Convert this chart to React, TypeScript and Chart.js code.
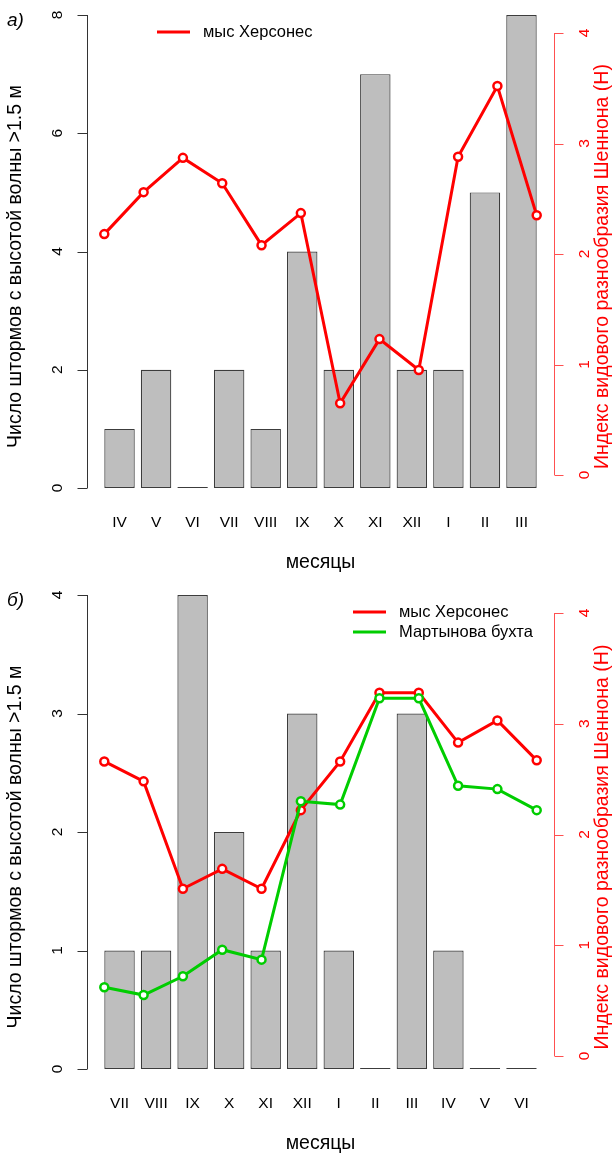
import React, { useEffect, useRef } from 'react';
import { Chart, registerables } from 'chart.js';
Chart.register(...registerables);

const FONT = '"Liberation Sans", Arial, sans-serif';

// Panel a
const monthsA = ['IV', 'V', 'VI', 'VII', 'VIII', 'IX', 'X', 'XI', 'XII', 'I', 'II', 'III'];
const stormsA = [1, 2, 0, 2, 1, 4, 2, 7, 2, 2, 5, 8];
const khersonesA = [2.18, 2.56, 2.87, 2.64, 2.08, 2.37, 0.65, 1.23, 0.95, 2.88, 3.52, 2.35];
const leftTicksA = [0, 2, 4, 6, 8];

// Panel b
const monthsB = ['VII', 'VIII', 'IX', 'X', 'XI', 'XII', 'I', 'II', 'III', 'IV', 'V', 'VI'];
const stormsB = [1, 1, 4, 2, 1, 3, 1, 0, 3, 1, 0, 0];
const khersonesB = [2.66, 2.48, 1.51, 1.69, 1.51, 2.22, 2.66, 3.28, 3.28, 2.83, 3.03, 2.67];
const martynovaB = [0.62, 0.55, 0.72, 0.96, 0.87, 2.3, 2.27, 3.23, 3.23, 2.44, 2.41, 2.22];
const leftTicksB = [0, 1, 2, 3, 4];

const rightTicks = [0, 1, 2, 3, 4];

const leftTitle = 'Число штормов с высотой волны >1.5 м';
const rightTitle = 'Индекс видового разнообразия Шеннона (Н)';
const xTitle = 'месяцы';

type Series = { label: string; color: string; values: number[] };
type Panel = {
  tag: string;
  months: string[];
  storms: number[];
  leftTicks: number[];
  series: Series[];
  top: number;
  bottom: number;
  legendX: number;
  legendY: number;
};

const W = 614;
const H = 577;

const panels: Panel[] = [
  {
    tag: 'а)',
    months: monthsA,
    storms: stormsA,
    leftTicks: leftTicksA,
    series: [{ label: 'мыс Херсонес', color: '#ff0000', values: khersonesA }],
    top: 15,
    bottom: 488,
    legendX: 157,
    legendY: 32,
  },
  {
    tag: 'б)',
    months: monthsB,
    storms: stormsB,
    leftTicks: leftTicksB,
    series: [
      { label: 'мыс Херсонес', color: '#ff0000', values: khersonesB },
      { label: 'Мартынова бухта', color: '#00cd00', values: martynovaB },
    ],
    top: 18,
    bottom: 492,
    legendX: 353,
    legendY: 35,
  },
];

function rotText(ctx: CanvasRenderingContext2D, text: string, x: number, y: number) {
  ctx.save();
  ctx.translate(x, y);
  ctx.rotate(-Math.PI / 2);
  ctx.textAlign = 'center';
  ctx.textBaseline = 'middle';
  ctx.fillText(text, 0, 0);
  ctx.restore();
}

function makeConfig(p: Panel): any {
  const barPos = p.months.map((_, i) => 0.7 + 1.2 * i);
  const leftMax = p.leftTicks[p.leftTicks.length - 1];
  const lineDatasets = p.series.map((s, k) => ({
    type: 'line',
    label: s.label,
    data: s.values.map((v, i) => ({ x: i + 1, y: v })),
    xAxisID: 'xp',
    yAxisID: 'y1',
    borderColor: s.color,
    borderWidth: 3,
    pointRadius: 4,
    pointBorderWidth: 2.5,
    pointBorderColor: s.color,
    pointBackgroundColor: '#ffffff',
    fill: false,
    tension: 0,
    order: p.series.length - k,
  }));

  const axesPlugin = {
    id: 'rAxes',
    afterDraw(chart: any) {
      const ctx: CanvasRenderingContext2D = chart.ctx;
      const a = chart.chartArea;
      const ys = chart.scales.y;
      const y1 = chart.scales.y1;
      const xb = chart.scales.xb;
      ctx.save();
      // left axis
      const xL = Math.round(a.left) + 0.5;
      ctx.strokeStyle = '#333';
      ctx.lineWidth = 1;
      ctx.beginPath();
      ctx.moveTo(xL, ys.getPixelForValue(p.leftTicks[0]));
      ctx.lineTo(xL, ys.getPixelForValue(leftMax));
      for (const t of p.leftTicks) {
        const py = Math.round(ys.getPixelForValue(t)) + 0.5;
        ctx.moveTo(xL - 10, py);
        ctx.lineTo(xL, py);
      }
      ctx.stroke();
      ctx.fillStyle = '#000';
      ctx.font = `15.5px ${FONT}`;
      for (const t of p.leftTicks) rotText(ctx, String(t), 58, ys.getPixelForValue(t));

      // month labels under bars
      ctx.textAlign = 'center';
      ctx.textBaseline = 'middle';
      p.months.forEach((m, i) => {
        ctx.fillText(m, xb.getPixelForValue(barPos[i]), a.bottom + 35);
      });

      // right axis
      const xR = Math.round(a.right) + 0.5;
      ctx.strokeStyle = '#ff5050';
      ctx.beginPath();
      ctx.moveTo(xR, y1.getPixelForValue(rightTicks[0]));
      ctx.lineTo(xR, y1.getPixelForValue(rightTicks[rightTicks.length - 1]));
      for (const t of rightTicks) {
        const py = Math.round(y1.getPixelForValue(t)) + 0.5;
        ctx.moveTo(xR, py);
        ctx.lineTo(xR + 9, py);
      }
      ctx.stroke();
      ctx.fillStyle = '#ff0000';
      for (const t of rightTicks) rotText(ctx, String(t), 585, y1.getPixelForValue(t));

      // titles
      const midY = (a.top + a.bottom) / 2 + 15;
      ctx.fillStyle = '#000';
      ctx.font = `19.5px ${FONT}`;
      rotText(ctx, leftTitle, 16, midY);
      ctx.fillStyle = '#ff0000';
      rotText(ctx, rightTitle, 603, midY);
      ctx.fillStyle = '#000';
      ctx.textAlign = 'center';
      ctx.textBaseline = 'middle';
      ctx.fillText(xTitle, (a.left + a.right) / 2, a.bottom + 75);

      // panel tag
      ctx.font = `italic 19px ${FONT}`;
      ctx.textAlign = 'left';
      ctx.fillText(p.tag, 7, a.top + 6);

      // legend
      ctx.font = `16.5px ${FONT}`;
      ctx.textAlign = 'left';
      p.series.forEach((s, k) => {
        const ly = p.legendY + k * 20;
        ctx.strokeStyle = s.color;
        ctx.lineWidth = 3;
        ctx.beginPath();
        ctx.moveTo(p.legendX, ly);
        ctx.lineTo(p.legendX + 33, ly);
        ctx.stroke();
        ctx.fillStyle = '#000';
        ctx.fillText(s.label, p.legendX + 46, ly);
      });
      ctx.restore();
    },
  };

  return {
    type: 'bar',
    data: {
      datasets: [
        ...lineDatasets,
        {
          type: 'bar',
          label: 'storms',
          data: p.storms.map((v, i) => ({ x: barPos[i], y: v })),
          xAxisID: 'xb',
          yAxisID: 'y',
          backgroundColor: '#bebebe',
          borderColor: '#3c3c3c',
          borderWidth: 1.2,
          borderSkipped: false,
          minBarLength: 1,
          grouped: false,
          barPercentage: 1 / 1.2,
          categoryPercentage: 1,
          order: 10,
        },
      ],
    },
    options: {
      animation: false,
      responsive: false,
      devicePixelRatio: 1,
      layout: { padding: { left: 87, right: W - 554, top: p.top, bottom: H - p.bottom } },
      plugins: { legend: { display: false }, tooltip: { enabled: false } },
      scales: {
        xb: {
          type: 'linear',
          display: false,
          offset: false,
          min: -0.368,
          max: 14.968,
          bounds: 'data',
          afterBuildTicks: (s: any) => {
            s.ticks = barPos.map((v) => ({ value: v }));
          },
        },
        xp: { type: 'linear', display: false, offset: false, min: 0.56, max: 12.44, bounds: 'data' },
        y: { type: 'linear', display: false, min: 0, max: leftMax, bounds: 'data' },
        y1: { type: 'linear', display: false, min: -0.1176, max: 4.163, bounds: 'data' },
      },
    },
    plugins: [axesPlugin],
  };
}

function PanelChart({ p, top }: { p: Panel; top: number }) {
  const ref = useRef<HTMLCanvasElement | null>(null);
  useEffect(() => {
    if (!ref.current) return;
    const chart = new Chart(ref.current, makeConfig(p));
    return () => chart.destroy();
  }, [p]);
  return (
    <canvas
      ref={ref}
      width={W}
      height={H}
      style={{ position: 'absolute', left: 0, top, width: W, height: H, display: 'block' }}
    />
  );
}

export default function App() {
  return (
    <div style={{ position: 'absolute', left: 0, top: 0, width: W, height: 1154, background: '#fff' }}>
      <PanelChart p={panels[0]} top={0} />
      <PanelChart p={panels[1]} top={H} />
    </div>
  );
}
